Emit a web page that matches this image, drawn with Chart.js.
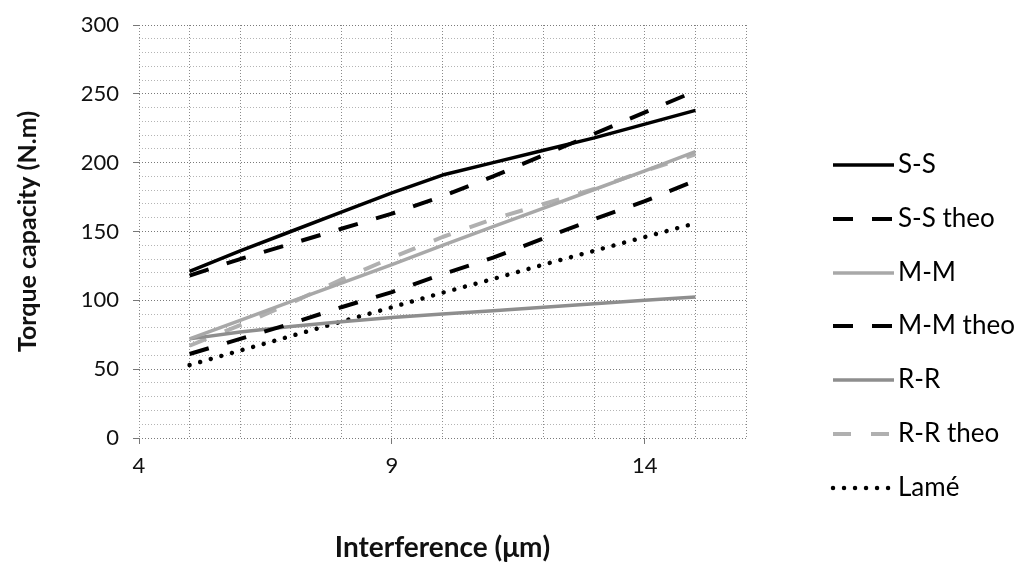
<!DOCTYPE html>
<html>
<head>
<meta charset="utf-8">
<script src="https://cdn.jsdelivr.net/npm/chart.js@4/dist/chart.umd.min.js"></script>
<style>
  html, body { margin: 0; padding: 0; background: #ffffff; }
  #wrap { width: 1025px; height: 565px; }
</style>
</head>
<body>
<div id="wrap"><canvas id="c" width="1025" height="565"></canvas></div>
<script>
// Interference (µm) at which each curve is sampled
const interference = [5, 6, 7, 8, 9, 10, 11, 12, 13, 14, 15];

// Torque capacity (N.m) per shaft/hub pairing
const ssMeasured = [121, 136, 150, 164, 178, 191, 200, 209, 218, 228, 238];
const ssTheory   = [118, 130, 141, 152, 163, 175.5, 190, 205.5, 221, 236.5, 252];
const mmMeasured = [72, 85.5, 99, 112.5, 126, 140, 153.5, 167, 180.5, 194, 208];
const mmTheory   = [61, 72, 83, 95, 106, 119, 131, 145, 159, 172, 187];
const rrMeasured = [72, 77, 81, 84.5, 87.5, 90, 92.5, 95, 97.5, 100, 102.5];
const rrTheory   = [67, 82, 98, 115, 131, 146, 159, 170, 181, 194, 206];
const lame       = [53, 63.5, 74, 84.5, 95, 105.5, 115.5, 126, 136, 146, 156];

const seriesNames = ['S-S', 'S-S theo', 'M-M', 'M-M theo', 'R-R', 'R-R theo', 'Lamé'];
const xTickLabels = [4, 9, 14];
const yTickLabels = [0, 50, 100, 150, 200, 250, 300];

const FONT = 'Lato, "Open Sans", "DejaVu Sans", sans-serif';

function pts(values) {
  return interference.map((x, i) => ({ x: x, y: values[i] }));
}

function series(label, values, color, width, dash, cap) {
  return {
    label: label,
    data: pts(values),
    borderColor: color,
    backgroundColor: color,
    borderWidth: width,
    borderDash: dash,
    borderCapStyle: cap || 'butt',
    borderJoinStyle: 'round',
    pointRadius: 0,
    pointHoverRadius: 0,
    tension: 0,
    fill: false
  };
}

const datasets = [
  series(seriesNames[0], ssMeasured, '#000000', 3.5, []),
  series(seriesNames[1], ssTheory,   '#000000', 4, [20, 19]),
  series(seriesNames[2], mmMeasured, '#a8a8a8', 3.5, []),
  series(seriesNames[3], mmTheory,   '#000000', 4, [20, 19]),
  series(seriesNames[4], rrMeasured, '#8e8e8e', 3.5, []),
  series(seriesNames[5], rrTheory,   '#b0b0b0', 4, [18, 20]),
  series(seriesNames[6], lame,       '#000000', 4.5, [0.01, 11], 'round')
];

// Legend at the right: a line sample in each series' style plus its name
const sideLegend = {
  id: 'sideLegend',
  afterDraw(chart) {
    const ctx = chart.ctx;
    const x0 = 833, x1 = 894, tx = 898, y0 = 165, dy = 53.8;
    chart.data.datasets.forEach((ds, i) => {
      const y = Math.round(y0 + i * dy);
      ctx.save();
      ctx.strokeStyle = ds.borderColor;
      ctx.lineWidth = ds.borderWidth;
      ctx.setLineDash(ds.borderDash || []);
      ctx.lineCap = ds.borderCapStyle || 'butt';
      ctx.beginPath();
      ctx.moveTo(x0, y);
      ctx.lineTo(x1, y);
      ctx.stroke();
      ctx.setLineDash([]);
      ctx.fillStyle = '#000000';
      ctx.font = '26px ' + FONT;
      ctx.textBaseline = 'middle';
      ctx.textAlign = 'left';
      ctx.fillText(ds.label, tx, y);
      ctx.restore();
    });
  }
};

new Chart(document.getElementById('c'), {
  type: 'line',
  data: { datasets: datasets },
  plugins: [sideLegend],
  options: {
    responsive: false,
    animation: false,
    devicePixelRatio: 1,
    layout: { padding: { left: 0, right: 279, top: 13, bottom: 0 } },
    plugins: {
      legend: { display: false },
      tooltip: { enabled: false }
    },
    scales: {
      x: {
        type: 'linear',
        min: 4,
        max: 16,
        afterFit(scale) { scale.height = 127; },
        ticks: {
          stepSize: 1,
          autoSkip: false,
          maxRotation: 0,
          padding: 9,
          color: '#111111',
          font: { family: FONT, size: 22 },
          callback: (v) => xTickLabels.includes(v) ? String(v) : ''
        },
        grid: {
          color: '#8a8a8a',
          lineWidth: 1,
          tickLength: 6,
          tickColor: (c) => (c.tick && xTickLabels.includes(c.tick.value)) ? '#777777' : 'rgba(0,0,0,0)'
        },
        border: { display: false, dash: [1, 2] },
        title: {
          display: true,
          text: 'Interference (μm)',
          color: '#111111',
          font: { family: FONT, size: 28, weight: 'bold' },
          padding: { top: 0, bottom: 0 }
        }
      },
      y: {
        type: 'linear',
        min: 0,
        max: 300,
        afterFit(scale) { scale.width = 139; },
        ticks: {
          stepSize: 10,
          autoSkip: false,
          padding: 14,
          color: '#111111',
          font: { family: FONT, size: 22, lineHeight: 1 },
          callback: (v) => yTickLabels.includes(v) ? String(v) : ''
        },
        grid: {
          color: (c) => (c.tick && c.tick.value % 50 === 0) ? '#7a7a7a' : '#b4b4b4',
          lineWidth: 1,
          tickLength: 6,
          tickColor: (c) => (c.tick && c.tick.value % 50 === 0) ? '#777777' : 'rgba(0,0,0,0)'
        },
        border: { display: false, dash: [1, 2] },
        title: {
          display: true,
          text: 'Torque capacity (N.m)',
          color: '#111111',
          font: { family: FONT, size: 25, weight: 'bold' },
          padding: { top: 13, bottom: 0 }
        }
      }
    }
  }
});
</script>
</body>
</html>
